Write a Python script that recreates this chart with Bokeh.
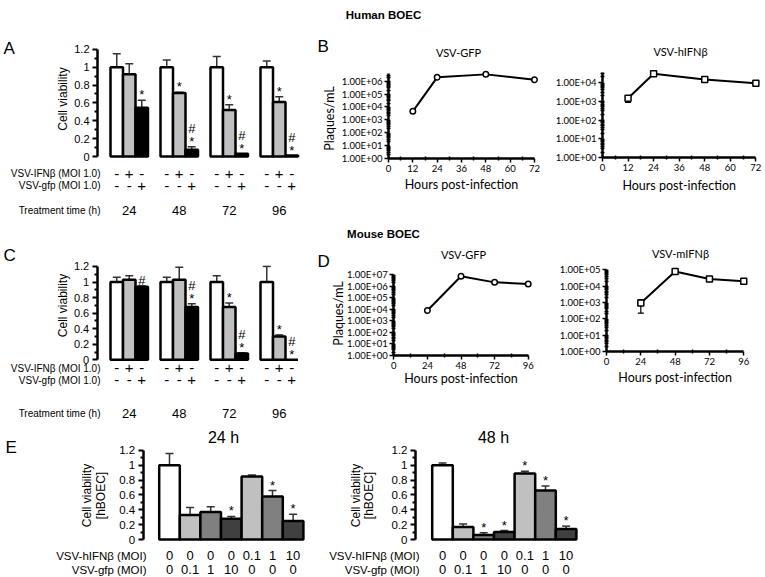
import math
from bokeh.plotting import figure
from bokeh.models import (Range1d, FixedTicker, CustomJSTickFormatter, Label,
                          Whisker, TeeHead, ColumnDataSource)
from bokeh.layouts import column, row
from bokeh.embed import file_html
from bokeh.resources import INLINE
from bokeh.core.properties import value

# ---------------- data ----------------
VIAB_TICKS = [0, 0.2, 0.4, 0.6, 0.8, 1.0, 1.2]
VIAB_MINOR = [0.1, 0.3, 0.5, 0.7, 0.9, 1.1]

# Panel A - Human BOEC, cell viability (control, VSV-IFNb, VSV-gfp)
A_times = ["24", "48", "72", "96"]
A_ctrl = [1.00, 1.00, 1.00, 1.00]
A_ctrl_err = [0.15, 0.08, 0.12, 0.07]
A_ifn = [0.92, 0.71, 0.52, 0.61]
A_ifn_err = [0.12, 0.01, 0.06, 0.06]
A_gfp = [0.545, 0.075, 0.03, 0.01]
A_gfp_err = [0.085, 0.035, 0.0, 0.0]
A_ifn_sig = ["", "*", "*", "*"]
A_gfp_sig = ["*", "#\n*", "#\n*", "#\n*"]

# Panel C - Mouse BOEC, cell viability
C_times = ["24", "48", "72", "96"]
C_ctrl = [1.00, 1.00, 1.00, 1.00]
C_ctrl_err = [0.06, 0.06, 0.08, 0.20]
C_ifn = [1.03, 1.03, 0.68, 0.30]
C_ifn_err = [0.05, 0.16, 0.05, 0.02]
C_gfp = [0.94, 0.68, 0.08, 0.0]
C_gfp_err = [0.01, 0.04, 0.01, 0.0]
C_ifn_sig = ["", "", "*", "*"]
C_gfp_sig = ["#", "#\n*", "#\n*", "#\n*"]

ROW_IFN = ["-", "+", "-"]
ROW_GFP = ["-", "-", "+"]

# Panel B - Human BOEC titers
B_hours = [12, 24, 48, 72]
B_gfp = [4.6e3, 2.0e6, 3.4e6, 1.3e6]
B_ifn = [1.4e3, 2.8e4, 1.4e4, 8.9e3]
B_ifn_lo = [8.5e2, 2.6e4, 1.1e4, 8.0e3]
B_ifn_hi = [1.6e3, 3.0e4, 1.5e4, 9.5e3]

# Panel D - Mouse BOEC titers
D_hours = [24, 48, 72, 96]
D_gfp = [8.0e3, 7.4e6, 2.2e6, 1.6e6]
D_ifn = [9.2e2, 7.8e4, 2.7e4, 2.0e4]
D_ifn_lo = [2.2e2, 7.0e4, 2.4e4, 1.8e4]
D_ifn_hi = [1.5e3, 8.5e4, 3.0e4, 2.2e4]

# Panel E - hBOEC viability vs MOI
E_ifn_moi = ["0", "0", "0", "0", "0.1", "1", "10"]
E_gfp_moi = ["0", "0.1", "1", "10", "0", "0", "0"]
E24 = [1.00, 0.33, 0.37, 0.28, 0.85, 0.58, 0.25]
E24_err = [0.16, 0.10, 0.07, 0.03, 0.02, 0.08, 0.09]
E24_sig = ["", "", "", "*", "", "*", "*"]
E48 = [1.00, 0.17, 0.06, 0.10, 0.89, 0.66, 0.14]
E48_err = [0.03, 0.04, 0.03, 0.02, 0.03, 0.06, 0.04]
E48_sig = ["", "", "*", "*", "*", "*", "*"]

# ---------------- styles ----------------
FONT = "Liberation Sans"
XLF = "Lato"
SER_COLORS = ["white", "#c0c0c0", "black"]
E_COLORS = ["white", "#c0c0c0", "#808080", "#404040", "#c0c0c0", "#808080", "#404040"]
ERR_COLOR = "#333333"


class Frame:
    """Maps page pixel positions to data coordinates for a figure whose frame fills its canvas."""

    def __init__(self, W, H, ox, oy, x0ref, xpx, y0ref, ypx, logy=False):
        self.x0ref, self.xpx, self.y0ref, self.ypx, self.logy = x0ref, xpx, y0ref, ypx, logy
        self.x_start = -(x0ref - ox) / xpx
        self.x_end = self.x_start + W / xpx
        self.y_end = (y0ref - oy) / ypx
        self.y_start = self.y_end - H / ypx

    def fx(self, rx):
        return (rx - self.x0ref) / self.xpx

    def fy(self, ry):
        v = (self.y0ref - ry) / self.ypx
        return 10 ** v if self.logy else v

    def yr(self):
        if self.logy:
            return Range1d(10 ** self.y_start, 10 ** self.y_end)
        return Range1d(self.y_start, self.y_end)


def new_fig(W, H, fr, log=False):
    p = figure(width=W, height=H, x_range=Range1d(fr.x_start, fr.x_end), y_range=fr.yr(),
               y_axis_type="log" if log else "linear", output_backend="svg",
               toolbar_location=None, min_border=0)
    p.outline_line_color = None
    p.xgrid.visible = False
    p.ygrid.visible = False
    return p


def label(p, x, y, text, size, align="center", baseline="middle", font=FONT, angle=0.0,
          style="normal", lh=1.2):
    p.add_layout(Label(x=x, y=y, text=text, text_align=align, text_baseline=baseline,
                       text_font=font, text_font_size=size, text_font_style=style, angle=angle,
                       text_line_height=lh, text_color="black"))


def text_fig(W, H, text, cx, cy):
    p = figure(width=W, height=H, x_range=Range1d(0, W), y_range=Range1d(0, H),
               output_backend="svg", toolbar_location=None, min_border=0)
    p.xaxis.visible = False
    p.yaxis.visible = False
    p.outline_line_color = None
    p.grid.visible = False
    label(p, cx, H - cy, text, "11.5px", style="bold")
    return p


def viab_axis(p, loc, size):
    ax = p.yaxis[0]
    ax.fixed_location = loc
    ax.bounds = (0, 1.2)
    ax.ticker = FixedTicker(ticks=VIAB_TICKS, minor_ticks=VIAB_MINOR)
    ax.formatter = CustomJSTickFormatter(code="return String(Math.round(tick*10)/10)")
    ax.axis_line_width = 2.5
    ax.axis_line_color = "black"
    ax.major_tick_line_width = 2
    ax.minor_tick_line_width = 2
    ax.major_tick_out = 5
    ax.major_tick_in = 0
    ax.minor_tick_out = 3
    ax.minor_tick_in = 0
    ax.major_label_standoff = 3
    ax.major_label_text_font = FONT
    ax.major_label_text_font_size = size
    ax.major_label_text_color = "black"


def viability_panel(W, H, ox, oy, bar0, zero, ppu, axis_x, times, vals, errs, sigs,
                    row_y, time_y, lab_right, ylab, letter_pos, letter):
    bar_px = 12.5
    fr = Frame(W, H, ox, oy, bar0, bar_px, zero, ppu)
    p = new_fig(W, H, fr)
    p.xaxis.visible = False
    viab_axis(p, fr.fx(axis_x), "11px")
    nser = len(vals)
    step = nser + 1
    for j in range(nser):
        xs = [g * step + j for g in range(len(times))]
        hi = [v + e for v, e in zip(vals[j], errs[j])]
        src = ColumnDataSource(dict(x=xs, top=vals[j], hi=hi,
                                    sig=sigs[j] if sigs[j] else [""] * len(xs)))
        p.vbar(x="x", top="top", width=1, source=src, fill_color=SER_COLORS[j],
               line_color="black", line_width=2.5)
        keep = [i for i, e in enumerate(errs[j]) if e > 0]
        wsrc = ColumnDataSource(dict(x=[xs[i] for i in keep], top=[vals[j][i] for i in keep],
                                     hi=[hi[i] for i in keep]))
        p.add_layout(Whisker(source=wsrc, base="x", lower="top", upper="hi", dimension="height",
                             line_color=ERR_COLOR, line_width=1.5, lower_head=None,
                             upper_head=TeeHead(size=8, line_color=ERR_COLOR, line_width=1.5)))
        if sigs[j]:
            p.text(x="x", y="hi", text="sig", source=src, text_align="center",
                   text_baseline="bottom", y_offset=2, text_font=value(FONT),
                   text_font_size="13px", text_line_height=0.85, text_color="black")
        for k, signs in enumerate((ROW_IFN, ROW_GFP)):
            p.text(x=xs, y=[0] * len(xs), text=[signs[j]] * len(xs), text_align="center",
                   text_baseline="middle", y_offset=row_y[k] - zero, text_font=value(FONT),
                   text_font_size="15px", text_color="black")
    centers = [g * step + (nser - 1) / 2 for g in range(len(times))]
    p.text(x=centers, y=[0] * len(centers), text=times, text_align="center",
           text_baseline="middle", y_offset=time_y - zero, text_font=value(FONT),
           text_font_size="13px", text_color="black")
    for txt, ry in (("VSV-IFNβ (MOI 1.0)", row_y[0]), ("VSV-gfp (MOI 1.0)", row_y[1]),
                    ("Treatment time (h)", time_y)):
        label(p, fr.fx(lab_right), fr.fy(ry), txt, "10px", align="right")
    label(p, fr.fx(ylab[0]), fr.fy(ylab[1]), "Cell viability", "12px", angle=math.pi / 2)
    label(p, fr.fx(letter_pos[0]), fr.fy(letter_pos[1]), letter, "17px", align="left")
    return p


def log_panel(W, H, ox, oy, xzero, xpx, yzero, ypx, xmax, xstep, ytop, hours, vals, lo, hi,
              marker, msize, title, title_pos, xlab_y, ylab=None, letter=None, letter_pos=None):
    fr = Frame(W, H, ox, oy, xzero, xpx, yzero, ypx, logy=True)
    p = new_fig(W, H, fr, log=True)
    ndec = int(math.floor(math.log10(ytop) + 1e-9))
    ya = p.yaxis[0]
    ya.fixed_location = 0
    ya.bounds = (1, ytop)
    ya.ticker = FixedTicker(ticks=[10 ** k for k in range(ndec + 1)],
                            minor_ticks=[m * 10 ** k for k in range(ndec + 1) for m in range(2, 10)
                                         if m * 10 ** k <= ytop])
    ya.formatter = CustomJSTickFormatter(
        code="const k = Math.round(Math.log10(tick)); return '1.00E+' + String(k).padStart(2, '0');")
    xa = p.xaxis[0]
    xa.fixed_location = 1
    xa.bounds = (0, xmax)
    xa.ticker = FixedTicker(ticks=list(range(0, xmax + 1, xstep)),
                            minor_ticks=list(range(xstep // 2, xmax, xstep)))
    for ax in (xa, ya):
        ax.axis_line_width = 2.5
        ax.axis_line_color = "black"
        ax.major_tick_line_width = 1.5
        ax.minor_tick_line_width = 1.5
        ax.major_tick_out = 4
        ax.major_tick_in = 0
        ax.minor_tick_out = 2
        ax.minor_tick_in = 2
        ax.major_label_standoff = 2
        ax.major_label_text_font = XLF
        ax.major_label_text_font_size = "9.5px"
        ax.major_label_text_color = "black"
    src = ColumnDataSource(dict(x=hours, y=vals))
    if lo is not None:
        wsrc = ColumnDataSource(dict(x=hours, lo=lo, hi=hi))
        p.add_layout(Whisker(source=wsrc, base="x", lower="lo", upper="hi", dimension="height",
                             line_color="black", line_width=1.2,
                             lower_head=TeeHead(size=6, line_color="black", line_width=1.2),
                             upper_head=TeeHead(size=6, line_color="black", line_width=1.2)))
    p.line(x="x", y="y", source=src, line_color="black", line_width=2)
    p.scatter(x="x", y="y", source=src, marker=marker, size=msize, fill_color="white",
              line_color="black", line_width=1.5)
    label(p, fr.fx(title_pos[0]), fr.fy(title_pos[1]), title, "11px", font=XLF)
    label(p, xmax / 2, fr.fy(xlab_y), "Hours post-infection", "12.5px", font=XLF)
    if ylab:
        label(p, fr.fx(ylab[0]), fr.fy(ylab[1]), "Plaques/mL", "12.5px", font=XLF,
              angle=math.pi / 2)
    if letter:
        label(p, fr.fx(letter_pos[0]), fr.fy(letter_pos[1]), letter, "17px", align="left")
    return p


def moi_panel(W, H, ox, oy, bar0, axis_x, vals, errs, sigs, title, title_pos, ylab,
              lab_right, letter=None, letter_pos=None):
    zero, ppu, bar_px = 539, 74.2, 20.6
    fr = Frame(W, H, ox, oy, bar0, bar_px, zero, ppu)
    p = new_fig(W, H, fr)
    p.xaxis.visible = False
    viab_axis(p, fr.fx(axis_x), "11.5px")
    xs = list(range(len(vals)))
    hi = [v + e for v, e in zip(vals, errs)]
    src = ColumnDataSource(dict(x=xs, top=vals, hi=hi, sig=sigs, c=E_COLORS))
    p.vbar(x="x", top="top", width=1, source=src, fill_color="c", line_color="black",
           line_width=2.5)
    p.add_layout(Whisker(source=src, base="x", lower="top", upper="hi", dimension="height",
                         line_color=ERR_COLOR, line_width=1.5, lower_head=None,
                         upper_head=TeeHead(size=8, line_color=ERR_COLOR, line_width=1.5)))
    p.text(x="x", y="hi", text="sig", source=src, text_align="center", text_baseline="bottom",
           y_offset=2, text_font=value(FONT), text_font_size="13px", text_color="black")
    for moi, off in ((E_ifn_moi, 16), (E_gfp_moi, 30)):
        p.text(x=xs, y=[0] * len(xs), text=moi, text_align="center", text_baseline="middle",
               y_offset=off, text_font=value(FONT), text_font_size="13px", text_color="black")
    for txt, off in (("VSV-hIFNβ (MOI)", 16), ("VSV-gfp (MOI)", 30)):
        label(p, fr.fx(lab_right), fr.fy(zero + off), txt, "11.5px", align="right")
    label(p, fr.fx(ylab[0]), fr.fy(ylab[1]), "Cell viability\n[hBOEC]", "12px",
          angle=math.pi / 2, lh=0.95)
    label(p, fr.fx(title_pos[0]), fr.fy(title_pos[1]), title, "16px")
    if letter:
        label(p, fr.fx(letter_pos[0]), fr.fy(letter_pos[1]), letter, "17px", align="left")
    return p


# ---------------- build (all positions are page pixels) ----------------
h1 = text_fig(765, 30, "Human BOEC", 383, 14)

figA = viability_panel(312, 192, 0, 30, 116.25, 156, 89.3, 97, A_times,
                       [A_ctrl, A_ifn, A_gfp], [A_ctrl_err, A_ifn_err, A_gfp_err],
                       [None, A_ifn_sig, A_gfp_sig], (173, 185), 209.5, 100, (62, 98.5),
                       (3, 47.5), "A")
figB1 = log_panel(233, 192, 312, 30, 388, 146 / 72, 158, 12.88, 72, 12, 10 ** 6.57,
                  B_hours, B_gfp, None, None, "circle", 5.5, "VSV-GFP", (458, 51.5), 184,
                  ylab=(329, 118), letter="B", letter_pos=(317, 46))
figB2 = log_panel(220, 192, 545, 30, 602, 2.13, 157.3, 18.9, 72, 12, 10 ** 4.53,
                  B_hours, B_ifn, B_ifn_lo, B_ifn_hi, "square", 6, "VSV-hIFNβ", (680, 51),
                  185)

h2 = text_fig(765, 20, "Mouse BOEC", 383, 11)

figC = viability_panel(312, 183, 0, 242, 116.25, 359.3, 77.8, 96.7, C_times,
                       [C_ctrl, C_ifn, C_gfp], [C_ctrl_err, C_ifn_err, C_gfp_err],
                       [None, C_ifn_sig, C_gfp_sig], (367.5, 379.5), 413, 100, (62, 305),
                       (3, 255), "C")
figD1 = log_panel(233, 183, 312, 242, 393.3, 1.4, 355, 11.53, 96, 24, 1e7,
                  D_hours, D_gfp, None, None, "circle", 5.5, "VSV-GFP", (463, 254), 378,
                  ylab=(338, 313), letter="D", letter_pos=(317, 261))
figD2 = log_panel(220, 183, 545, 242, 606, 1.43, 351, 16.34, 96, 24, 1e5,
                  D_hours, D_ifn, D_ifn_lo, D_ifn_hi, "square", 6, "VSV-mIFNβ", (680, 253),
                  377)

figE1 = moi_panel(322, 151, 0, 425, 169, 142.7, E24, E24_err, E24_sig, "24 h", (223, 437),
                  (93.5, 495), 146, letter="E", letter_pos=(5, 447))
figE2 = moi_panel(443, 151, 322, 425, 442, 415, E48, E48_err, E48_sig, "48 h", (493, 437),
                  (362, 495), 419)

layout = column(h1, row(figA, figB1, figB2), h2, row(figC, figD1, figD2), row(figE1, figE2))

open("out.html", "w").write(file_html(layout, INLINE))
